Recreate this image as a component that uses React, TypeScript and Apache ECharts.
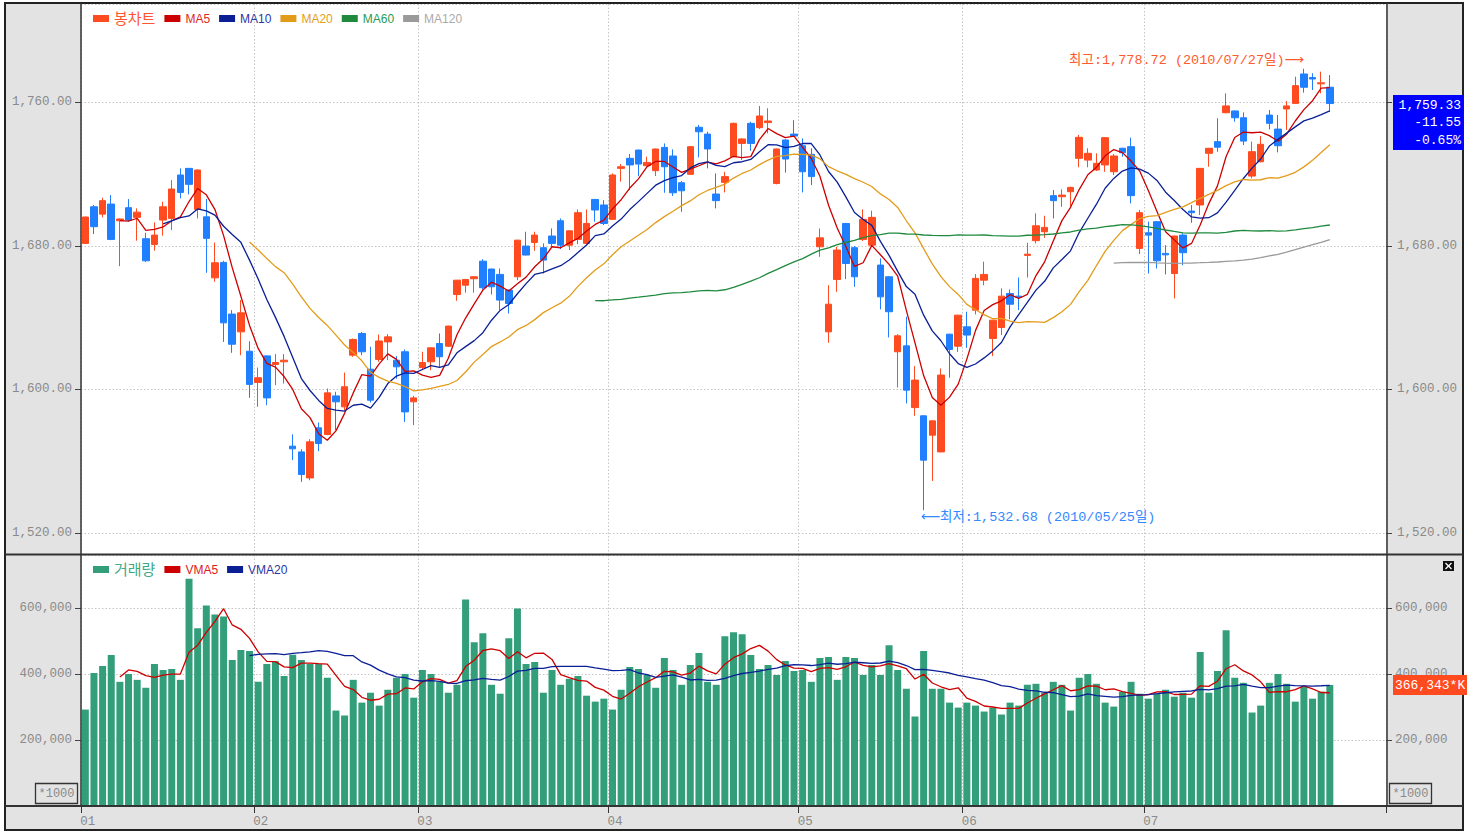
import React, { useEffect, useRef } from "react";
import * as echarts from "echarts";

// ---------------- data (KOSPI daily, 2010-01-04 .. 2010-07-30) ----------------
const JAN_DAYS = [4, 5, 6, 7, 8, 11, 12, 13, 14, 15, 18, 19, 20, 21, 22, 25, 26, 27, 28, 29];
const FEB_DAYS = [1, 2, 3, 4, 5, 8, 9, 10, 11, 12, 16, 17, 18, 19, 22, 23, 24, 25, 26];
const MAR_DAYS = [2, 3, 4, 5, 8, 9, 10, 11, 12, 15, 16, 17, 18, 19, 22, 23, 24, 25, 26, 29, 30, 31];
const APR_DAYS = [1, 2, 5, 6, 7, 8, 9, 12, 13, 14, 15, 16, 19, 20, 21, 22, 23, 26, 27, 28, 29, 30];
const MAY_DAYS = [3, 4, 6, 7, 10, 11, 12, 13, 14, 17, 18, 19, 20, 24, 25, 26, 27, 28, 31];
const JUN_DAYS = [1, 3, 4, 7, 8, 9, 10, 11, 14, 15, 16, 17, 18, 21, 22, 23, 24, 25, 28, 29, 30];
const JUL_DAYS = [1, 2, 5, 6, 7, 8, 9, 12, 13, 14, 15, 16, 19, 20, 21, 22, 23, 26, 27, 28, 29, 30];
const TRADING_DAYS = [JAN_DAYS, FEB_DAYS, MAR_DAYS, APR_DAYS, MAY_DAYS, JUN_DAYS, JUL_DAYS];
const EMPTY_SLOTS = 6; // blank days to the right of the last candle

const OPEN = [
  1681.4, 1701.8, 1697.7, 1703.3, 1694.0, 1701.3, 1695.9, 1684.0, 1680.8, 1694.4,
  1695.3, 1719.5, 1723.2, 1700.3, 1696.2, 1662.2, 1670.8, 1642.0, 1632.1, 1621.3,
  1603.9, 1618.7, 1613.9, 1615.4, 1568.4, 1565.2, 1550.7, 1578.6, 1574.9, 1596.4,
  1590.3, 1619.1, 1631.2, 1611.3, 1616.7, 1626.5, 1616.3, 1621.0, 1593.1, 1612.2,
  1615.4, 1625.6, 1624.1, 1652.9, 1658.1, 1661.7, 1671.5, 1667.1, 1664.1, 1655.4,
  1662.8, 1679.9, 1681.9, 1679.0, 1685.5, 1694.0, 1680.4, 1683.6, 1681.4, 1705.9,
  1702.8, 1694.8, 1723.2, 1728.8, 1733.4, 1724.7, 1721.9, 1734.9, 1730.1, 1715.2,
  1719.9, 1746.1, 1742.3, 1708.9, 1715.4, 1729.7, 1737.1, 1748.3, 1745.9, 1748.7,
  1714.8, 1739.0, 1742.3, 1735.8, 1731.0, 1679.5, 1632.1, 1661.3, 1692.5, 1679.0,
  1683.6, 1680.4, 1669.3, 1662.8, 1621.0, 1624.3, 1589.9, 1585.3, 1574.5, 1565.2,
  1630.8, 1624.1, 1634.9, 1644.2, 1660.9, 1628.4, 1634.5, 1653.5, 1652.0, 1674.7,
  1682.9, 1687.9, 1708.0, 1707.4, 1710.2, 1728.8, 1727.8, 1722.3, 1725.1, 1721.3,
  1734.4, 1735.3, 1678.6, 1687.3, 1693.5, 1675.8, 1664.6, 1686.0, 1699.4, 1702.8,
  1731.6, 1738.1, 1754.2, 1755.2, 1751.4, 1718.9, 1726.9, 1752.9, 1745.1, 1756.3,
  1759.4, 1775.8, 1773.8, 1770.3, 1768.4,
];
const HIGH = [
  1696.2, 1702.8, 1706.8, 1708.3, 1695.3, 1706.1, 1700.9, 1687.3, 1693.1, 1704.6,
  1716.7, 1723.2, 1723.4, 1722.6, 1706.1, 1681.9, 1671.7, 1644.2, 1649.8, 1626.9,
  1612.2, 1619.0, 1619.7, 1619.7, 1575.0, 1566.7, 1572.3, 1581.6, 1600.5, 1598.7,
  1609.4, 1628.4, 1632.1, 1623.8, 1630.6, 1630.8, 1618.6, 1622.3, 1596.4, 1621.0,
  1623.4, 1631.2, 1635.5, 1661.0, 1661.5, 1663.2, 1672.6, 1667.3, 1667.4, 1655.6,
  1683.4, 1687.9, 1687.9, 1681.4, 1689.7, 1695.3, 1688.6, 1700.3, 1700.3, 1706.1,
  1705.5, 1720.4, 1725.6, 1731.2, 1733.6, 1729.7, 1734.2, 1737.1, 1733.8, 1716.1,
  1735.5, 1747.4, 1743.6, 1720.4, 1721.3, 1748.7, 1739.9, 1749.2, 1758.0, 1756.7,
  1734.2, 1739.4, 1750.1, 1739.9, 1734.4, 1689.7, 1658.1, 1679.5, 1692.7, 1679.9,
  1700.3, 1699.6, 1673.0, 1663.2, 1630.8, 1640.5, 1613.0, 1585.7, 1582.7, 1611.7,
  1631.0, 1641.6, 1643.3, 1664.3, 1671.2, 1638.8, 1656.3, 1655.7, 1662.4, 1681.7,
  1698.1, 1696.8, 1711.1, 1711.5, 1713.0, 1741.8, 1734.4, 1731.6, 1740.5, 1731.2,
  1734.7, 1740.3, 1700.0, 1693.5, 1693.8, 1680.4, 1685.7, 1687.0, 1702.8, 1723.4,
  1734.6, 1751.1, 1765.0, 1755.4, 1754.4, 1738.1, 1741.2, 1755.7, 1752.9, 1760.7,
  1774.3, 1778.72, 1776.2, 1777.1, 1775.2,
];
const LOW = [
  1681.4, 1686.6, 1695.9, 1683.2, 1668.7, 1693.5, 1682.9, 1671.0, 1677.3, 1685.7,
  1688.8, 1706.5, 1708.7, 1695.3, 1665.0, 1660.0, 1626.5, 1620.4, 1619.1, 1595.3,
  1590.3, 1591.2, 1602.4, 1603.3, 1560.6, 1548.5, 1549.4, 1565.6, 1574.5, 1577.3,
  1588.4, 1618.2, 1619.1, 1592.7, 1615.4, 1616.3, 1606.0, 1581.9, 1580.1, 1610.7,
  1610.7, 1612.6, 1623.8, 1649.4, 1653.9, 1653.9, 1655.7, 1652.9, 1644.2, 1642.3,
  1660.9, 1674.7, 1677.3, 1664.6, 1679.5, 1678.2, 1677.7, 1681.0, 1680.8, 1693.5,
  1691.6, 1694.4, 1715.8, 1711.1, 1718.9, 1724.5, 1718.9, 1709.6, 1707.8, 1699.0,
  1719.5, 1729.3, 1723.2, 1700.9, 1709.8, 1729.3, 1727.8, 1732.9, 1745.1, 1742.7,
  1714.3, 1720.8, 1740.9, 1709.8, 1713.9, 1673.9, 1626.0, 1654.4, 1661.5, 1657.2,
  1682.7, 1679.5, 1644.6, 1629.0, 1601.1, 1592.2, 1585.3, 1532.68, 1549.0, 1565.0,
  1606.5, 1620.9, 1623.2, 1641.8, 1658.1, 1618.6, 1630.3, 1639.0, 1644.2, 1662.4,
  1681.4, 1684.5, 1695.3, 1701.8, 1701.8, 1723.8, 1723.8, 1721.7, 1721.3, 1719.5,
  1729.7, 1703.7, 1675.4, 1664.6, 1667.4, 1664.1, 1650.7, 1669.3, 1692.9, 1697.2,
  1724.1, 1732.5, 1753.9, 1749.2, 1736.2, 1717.6, 1726.5, 1744.9, 1732.1, 1744.6,
  1759.1, 1765.4, 1766.9, 1765.0, 1754.8,
];
const CLOSE = [
  1696.1, 1690.7, 1705.2, 1683.6, 1695.0, 1694.4, 1698.8, 1671.7, 1686.0, 1701.8,
  1711.7, 1709.8, 1714.3, 1722.3, 1684.2, 1670.6, 1637.1, 1625.2, 1642.7, 1602.8,
  1606.5, 1595.3, 1615.0, 1616.3, 1566.9, 1552.6, 1570.8, 1569.9, 1598.1, 1593.1,
  1601.5, 1627.8, 1621.0, 1594.0, 1627.0, 1629.3, 1612.6, 1587.5, 1595.3, 1615.0,
  1623.2, 1618.2, 1635.3, 1660.9, 1661.3, 1662.8, 1656.7, 1657.2, 1649.8, 1647.9,
  1683.2, 1674.9, 1686.0, 1672.1, 1681.4, 1680.4, 1688.4, 1698.5, 1692.5, 1700.0,
  1692.5, 1719.5, 1724.1, 1725.1, 1725.6, 1726.5, 1734.0, 1724.1, 1709.6, 1710.7,
  1735.3, 1743.6, 1734.0, 1705.2, 1718.6, 1748.3, 1739.6, 1737.1, 1752.4, 1749.6,
  1734.0, 1728.4, 1741.2, 1721.3, 1718.6, 1684.5, 1647.5, 1677.7, 1670.2, 1662.8,
  1694.8, 1695.9, 1651.6, 1643.3, 1629.9, 1599.6, 1605.2, 1560.6, 1582.5, 1608.0,
  1622.3, 1641.4, 1630.3, 1661.9, 1664.1, 1638.6, 1652.0, 1647.5, 1651.3, 1675.4,
  1691.2, 1690.3, 1705.2, 1708.3, 1712.6, 1740.5, 1731.6, 1726.0, 1740.3, 1730.1,
  1731.9, 1708.0, 1698.5, 1686.0, 1671.7, 1675.0, 1685.5, 1676.2, 1698.5, 1723.2,
  1734.4, 1735.0, 1758.0, 1751.4, 1738.4, 1732.5, 1736.6, 1748.3, 1735.8, 1758.0,
  1769.3, 1768.4, 1773.0, 1770.88, 1759.33,
];
// trading volume, in units of 1000 shares (axis is "*1000")
const VOLUME = [
  292000, 403000, 424000, 457000, 376000, 400000, 382000, 358000, 430000, 412000,
  415000, 382000, 688000, 538000, 607000, 580000, 574000, 442000, 472000, 469000,
  376000, 430000, 438000, 394000, 458000, 442000, 430000, 430000, 388000, 289000,
  274000, 382000, 313000, 343000, 304000, 352000, 388000, 400000, 328000, 412000,
  400000, 376000, 343000, 367000, 625000, 496000, 523000, 367000, 340000, 508000,
  598000, 430000, 436000, 343000, 412000, 367000, 385000, 394000, 334000, 316000,
  325000, 292000, 352000, 421000, 415000, 397000, 358000, 448000, 412000, 367000,
  427000, 463000, 376000, 367000, 514000, 526000, 520000, 457000, 415000, 427000,
  397000, 439000, 409000, 412000, 376000, 448000, 451000, 382000, 451000, 448000,
  397000, 427000, 397000, 487000, 412000, 355000, 271000, 469000, 355000, 355000,
  313000, 298000, 313000, 304000, 286000, 298000, 277000, 313000, 304000, 367000,
  370000, 343000, 376000, 367000, 289000, 388000, 400000, 370000, 313000, 301000,
  346000, 376000, 340000, 325000, 340000, 352000, 331000, 343000, 328000, 466000,
  343000, 409000, 532000, 388000, 373000, 283000, 304000, 373000, 400000, 370000,
  316000, 361000, 325000, 346000, 366343,
];

const PRICE_MIN = 1520;
const PRICE_STEP = 80;
const VOLUME_STEP = 200000;
const MA_PERIODS = [5, 10, 20, 60, 120];
const VMA_PERIODS = [5, 20];

// ---------------- styling ----------------
const UP = "#ff4b1f";
const DOWN = "#1f7fff";
const VOL = "#339e7a";
const MA_COLORS = ["#cc0000", "#0a1f96", "#e39c1a", "#1f8a3e", "#9a9a9a"];
const MA_TEXT = ["#dd2a1a", "#2a36a6", "#e0a020", "#2a9a55", "#aaaaaa"];
const VMA_COLORS = ["#cc0000", "#0a1f96"];
const FONT_NUM = '"Liberation Mono", "DejaVu Sans Mono", monospace';
const FONT_TXT = '"Liberation Sans", "Noto Sans CJK KR", sans-serif';
const FONT_ANN = '"Liberation Mono", "Noto Sans CJK KR", "DejaVu Sans", monospace';
const GRID_LINE = { color: "#c4c4c4", width: 1, type: [1.5, 2] as any };

const PANE_LEFT = 81;
const PANE_W = 1305;
const PANE_RIGHT = PANE_LEFT + PANE_W;

const pad2 = (n: number) => String(n).padStart(2, "0");
const DATES: string[] = TRADING_DAYS.flatMap((days, m) => days.map((d) => `2010/${pad2(m + 1)}/${pad2(d)}`));
const CATS: string[] = [...DATES, ...Array(EMPTY_SLOTS).fill("")];
const isMonthStart = (i: number) =>
  i < DATES.length && (i === 0 || DATES[i].slice(5, 7) !== DATES[i - 1].slice(5, 7));

function movingAverage(src: number[], n: number) {
  return src.map((_, i) => {
    if (i < n - 1) return "-";
    let s = 0;
    for (let k = i - n + 1; k <= i; k++) s += src[k];
    return +(s / n).toFixed(2);
  });
}
const fmt2 = (v: number) => v.toLocaleString("en-US", { minimumFractionDigits: 2, maximumFractionDigits: 2 });
const fmt0 = (v: number) => Math.round(v).toLocaleString("en-US");

export default function App() {
  const ref = useRef<HTMLDivElement>(null);

  useEffect(() => {
    const chart = echarts.init(ref.current as HTMLDivElement, null, { renderer: "svg" });

    const last = CLOSE.length - 1;
    const candleData = OPEN.map((o, i) => [o, CLOSE[i], LOW[i], HIGH[i]]);
    const priceAxisCommon = {
      type: "value",
      gridIndex: 1,
      min: PRICE_MIN,
      max: 1814.8,
      interval: PRICE_STEP,
      axisLine: { show: false },
      axisTick: { show: true, length: 6, lineStyle: { color: "#444" } },
      axisLabel: { color: "#8a8a8a", fontSize: 12.5, fontFamily: FONT_NUM, showMaxLabel: false, formatter: (v: number) => fmt2(v) },
    };
    const volAxisCommon = {
      type: "value",
      gridIndex: 2,
      min: 0,
      max: 760000,
      interval: VOLUME_STEP,
      axisLine: { show: false },
      axisTick: { show: true, length: 6, lineStyle: { color: "#444" } },
      axisLabel: { color: "#8a8a8a", fontSize: 12.5, fontFamily: FONT_NUM, showMaxLabel: false, showMinLabel: false, margin: 9, formatter: (v: number) => fmt0(v) },
    };

    const maSeries = MA_PERIODS.map((p, k) => ({
      name: `MA${p}`,
      type: "line",
      xAxisIndex: 1,
      yAxisIndex: 1,
      data: movingAverage(CLOSE, p),
      symbol: "none",
      showSymbol: false,
      color: MA_COLORS[k],
      itemStyle: { color: MA_COLORS[k] },
      lineStyle: { color: MA_COLORS[k], width: 1.3 },
      silent: true,
      z: 3,
    }));
    const vmaSeries = VMA_PERIODS.map((p, k) => ({
      name: `VMA${p}`,
      type: "line",
      xAxisIndex: 2,
      yAxisIndex: 3,
      data: movingAverage(VOLUME, p),
      symbol: "none",
      showSymbol: false,
      color: VMA_COLORS[k],
      itemStyle: { color: VMA_COLORS[k] },
      lineStyle: { color: VMA_COLORS[k], width: 1.3 },
      silent: true,
      z: 3,
    }));

    const legendBase = {
      left: 88,
      icon: "rect",
      itemWidth: 16,
      itemHeight: 7,
      itemGap: 9,
      selectedMode: false,
      itemStyle: { borderWidth: 0 },
      textStyle: { fontSize: 12, fontFamily: FONT_TXT },
    };

    const option: any = {
      animation: false,
      backgroundColor: "transparent",
      textStyle: { fontFamily: FONT_TXT },
      legend: [
        {
          ...legendBase,
          top: 6,
          data: [
            { name: "봉차트", itemStyle: { color: UP }, textStyle: { color: "#ff5533", fontSize: 15 } },
            ...MA_PERIODS.map((p, k) => ({ name: `MA${p}`, itemStyle: { color: MA_COLORS[k] }, textStyle: { color: MA_TEXT[k] } })),
          ],
        },
        {
          ...legendBase,
          top: 557,
          data: [
            { name: "거래량", itemStyle: { color: VOL }, textStyle: { color: "#3fa884", fontSize: 15 } },
            { name: "VMA5", itemStyle: { color: VMA_COLORS[0] }, textStyle: { color: "#dd1a1a" } },
            { name: "VMA20", itemStyle: { color: VMA_COLORS[1] }, textStyle: { color: "#2a36a6" } },
          ],
        },
      ],
      grid: [
        { left: PANE_LEFT, top: 4, width: PANE_W, height: 550, show: true, backgroundColor: "#fff", borderWidth: 0 },
        { left: PANE_LEFT, top: 4, width: PANE_W, height: 529, show: false },
        { left: PANE_LEFT, top: 555, width: PANE_W, height: 251, show: true, backgroundColor: "#fff", borderWidth: 0 },
      ],
      xAxis: [
        {
          type: "category",
          gridIndex: 0,
          data: CATS,
          boundaryGap: true,
          axisLine: { show: false },
          axisTick: { show: false },
          axisLabel: { show: false },
          splitLine: { show: true, interval: (i: number) => isMonthStart(i), lineStyle: GRID_LINE },
        },
        {
          type: "category",
          gridIndex: 1,
          data: CATS,
          boundaryGap: true,
          show: false,
        },
        {
          type: "category",
          gridIndex: 2,
          data: CATS,
          boundaryGap: true,
          axisLine: { show: false },
          axisTick: { show: true, interval: (i: number) => isMonthStart(i), length: 7, lineStyle: { color: "#333" } },
          axisLabel: {
            show: true,
            interval: (i: number) => isMonthStart(i),
            formatter: (v: string) => (v ? v.slice(5, 7) : ""),
            color: "#8a8a8a",
            fontSize: 12.5,
            fontFamily: FONT_NUM,
            align: "left",
            padding: [0, 0, 0, -5],
            margin: 9,
          },
          splitLine: { show: true, interval: (i: number) => isMonthStart(i), lineStyle: GRID_LINE },
        },
      ],
      yAxis: [
        { type: "value", gridIndex: 0, min: 0, max: 1, show: false },
        { ...priceAxisCommon, position: "left", axisLabel: { ...priceAxisCommon.axisLabel, margin: 9 }, splitLine: { show: true, lineStyle: GRID_LINE } },
        {
          ...priceAxisCommon,
          position: "right",
          // the label hidden under the current-price box is left blank, as in the original
          axisLabel: { ...priceAxisCommon.axisLabel, margin: 11, formatter: (v: number) => (Math.abs(v - CLOSE[last]) < 12 ? "" : fmt2(v)) },
          splitLine: { show: false },
        },
        { ...volAxisCommon, position: "left", splitLine: { show: true, lineStyle: GRID_LINE } },
        { ...volAxisCommon, position: "right", splitLine: { show: false } },
      ],
      series: [
        {
          name: "봉차트",
          type: "candlestick",
          xAxisIndex: 1,
          yAxisIndex: 1,
          data: candleData,
          barWidth: 7,
          itemStyle: { color: UP, color0: DOWN, borderColor: UP, borderColor0: DOWN, borderWidth: 1 },
          silent: true,
          z: 2,
        },
        ...maSeries,
        {
          name: "거래량",
          type: "bar",
          xAxisIndex: 2,
          yAxisIndex: 3,
          data: VOLUME,
          barWidth: 7,
          itemStyle: { color: VOL },
          silent: true,
          z: 2,
        },
        ...vmaSeries,
      ],
    };

    chart.setOption(option);

    // ---- annotations positioned through the chart's own scales ----
    let hiIdx = 0;
    let loIdx = 0;
    HIGH.forEach((h, i) => { if (h > HIGH[hiIdx]) hiIdx = i; });
    LOW.forEach((l, i) => { if (l < LOW[loIdx]) loIdx = i; });
    const hiPt = chart.convertToPixel({ seriesIndex: 0 }, [hiIdx, HIGH[hiIdx]]) as number[];
    const loPt = chart.convertToPixel({ seriesIndex: 0 }, [loIdx, LOW[loIdx]]) as number[];
    const closePt = chart.convertToPixel({ seriesIndex: 0 }, [last, CLOSE[last]]) as number[];
    const volSeriesIndex = 1 + MA_PERIODS.length;
    const volPt = chart.convertToPixel({ seriesIndex: volSeriesIndex }, [last, VOLUME[last]]) as number[];

    const change = CLOSE[last] - CLOSE[last - 1];
    const pct = (change / CLOSE[last - 1]) * 100;

    const txt = (x: number, y: number, text: string, fill: string, align: string, font = `13px ${FONT_ANN}`, z = 120) => ({
      type: "text",
      x,
      y,
      z,
      silent: true,
      style: { text, fill, font, textAlign: align, align, textVerticalAlign: "middle", verticalAlign: "middle" },
    });
    const line = (x1: number, y1: number, x2: number, y2: number, w = 1.5, c = "#333") => ({
      type: "line",
      z: 100,
      silent: true,
      shape: { x1, y1, x2, y2 },
      style: { stroke: c, lineWidth: w },
    });

    const graphic: any[] = [
      // frame
      { type: "rect", z: 100, silent: true, shape: { x: 5, y: 3, width: 1458, height: 827 }, style: { fill: "none", stroke: "#222", lineWidth: 2 } },
      line(PANE_LEFT, 3, PANE_LEFT, 806),
      line(PANE_RIGHT + 1, 3, PANE_RIGHT + 1, 806),
      line(5, 554.5, 1463, 554.5, 2),
      line(5, 806, 1463, 806, 2),
      // *1000 boxes
      { type: "rect", z: 100, silent: true, shape: { x: 35.5, y: 783.5, width: 42, height: 20 }, style: { fill: "none", stroke: "#333", lineWidth: 1.3 } },
      txt(56.5, 794, "*1000", "#8a8a8a", "center", `12px ${FONT_NUM}`),
      { type: "rect", z: 100, silent: true, shape: { x: 1389.5, y: 783.5, width: 42, height: 20 }, style: { fill: "none", stroke: "#333", lineWidth: 1.3 } },
      txt(1410.5, 794, "*1000", "#8a8a8a", "center", `12px ${FONT_NUM}`),
      // close icon of the volume pane
      { type: "rect", z: 100, silent: true, shape: { x: 1443, y: 561, width: 11, height: 10 }, style: { fill: "#111" } },
      line(1445.5, 563, 1451.5, 569, 1.3, "#fff"),
      line(1451.5, 563, 1445.5, 569, 1.3, "#fff"),
      // highest / lowest annotations
      txt(hiPt[0], hiPt[1] - 8, `최고:${fmt2(HIGH[hiIdx])} (${DATES[hiIdx]}일)⟶`, "#ff5a2e", "right", `13.5px ${FONT_ANN}`),
      txt(loPt[0] - 3, loPt[1] + 7, `⟵최저:${fmt2(LOW[loIdx])} (${DATES[loIdx]}일)`, "#3388ff", "left", `13.5px ${FONT_ANN}`),
      // current price box
      { type: "rect", z: 110, silent: true, shape: { x: PANE_RIGHT + 7, y: closePt[1] - 8.5, width: 70, height: 55 }, style: { fill: "#0000ff" } },
      txt(1461, closePt[1] + 1.5, fmt2(CLOSE[last]), "#fff", "right"),
      txt(1461, closePt[1] + 19, change.toFixed(2), "#fff", "right"),
      txt(1461, closePt[1] + 36.5, `${pct.toFixed(2)}%`, "#fff", "right"),
      // current volume box
      { type: "rect", z: 110, silent: true, shape: { x: PANE_RIGHT + 7, y: volPt[1] - 10, width: 74, height: 20 }, style: { fill: "#ff4b1f" } },
      txt(PANE_RIGHT + 9, volPt[1], `${fmt0(VOLUME[last])}*K`, "#fff", "left"),
    ];
    chart.setOption({ graphic });

    return () => chart.dispose();
  }, []);

  return (
    <div style={{ position: "fixed", left: 0, top: 0, width: 1484, height: 832, background: "#fff" }}>
      <div style={{ position: "absolute", left: 5, top: 3, width: 1458, height: 827, background: "#e3e3e3" }} />
      <div ref={ref} style={{ position: "absolute", left: 0, top: 0, width: 1484, height: 832 }} />
    </div>
  );
}
